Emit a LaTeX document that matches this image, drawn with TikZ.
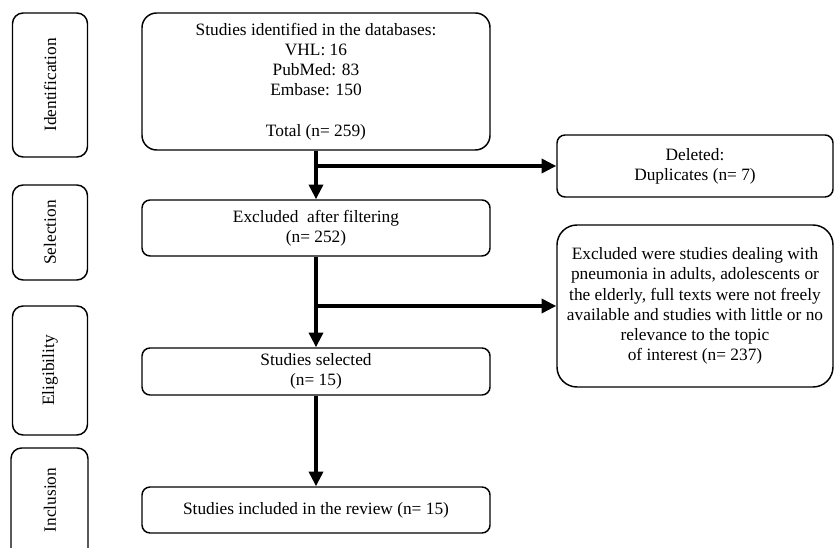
\documentclass[tikz,border=0pt]{standalone}
\usepackage{fontspec}
\setmainfont{Liberation Serif}
\usepackage{tikz}
\usetikzlibrary{positioning, arrows.meta}
\tikzstyle{mainbox} = [draw, rectangle, rounded corners=6pt, line width=1.1pt, align=center, minimum width=261pt, inner sep=2pt]
\tikzstyle{sidebox} = [draw, rectangle, rounded corners=8pt, line width=1.1pt, rotate=90, minimum height=56.25pt, inner sep=2pt]
\tikzstyle{flow} = [line width=2.6pt, -{Triangle[length=11pt, width=10.5pt]}]

\begin{document}
\begin{tikzpicture}[x=0.75pt, y=-0.75pt, font=\fontsize{13}{15.2}\selectfont]
\useasboundingbox (0,0) rectangle (835,548);
\clip (0,0) rectangle (835,548);
% phases
\node[sidebox, minimum width=108pt] (lid) at (50,85) {Identification};
\node[sidebox, minimum width=71.25pt] (lsel) at (50,232.5) {Selection};
\node[sidebox, minimum width=96.75pt] (lelig) at (50,370.5) {Eligibility};
\node[rotate=90] (lincl) at (50,500) {Inclusion};
\draw[rounded corners=8pt, line width=1.1pt] (11,570) -- (11,448) -- (88,448) -- (88,570);
% main column
\node[mainbox, rounded corners=11pt, minimum height=102.75pt] (ident) at (316,81.5) {Studies identified in the databases:\\ VHL: 16\\ PubMed: 83\\ Embase: 150\\[15.2pt] Total (n= 259)};
\node[mainbox, minimum height=42pt] (filt) at (316,228) {Excluded\ \ after filtering\\ (n= 252)};
\node[mainbox, minimum height=35.25pt] (sel) at (316,371.5) {Studies selected\\ (n= 15)};
\node[mainbox, minimum height=34.5pt] (incl) at (316,510) {Studies included in the review (n= 15)};
% removed records
\node[mainbox, minimum width=207pt, minimum height=46.5pt] (dup) at (695,166) {Deleted:\\ Duplicates (n= 7)};
\node[mainbox, rounded corners=15pt, minimum width=207pt, minimum height=121.5pt] (excl) at (695,306) {Excluded were studies dealing with\\ pneumonia in adults, adolescents or\\ the elderly, full texts were not freely\\ available and studies with little or no\\ relevance to the topic\\ of interest (n= 237)};
% connectors
\draw[flow] (ident) -- (filt);
\draw[flow] (ident.south |- dup.west) -- (dup);
\draw[flow] (filt) -- (sel);
\draw[flow] (filt.south |- excl.west) -- (excl);
\draw[flow] (sel) -- (incl);
\end{tikzpicture}
\end{document}
